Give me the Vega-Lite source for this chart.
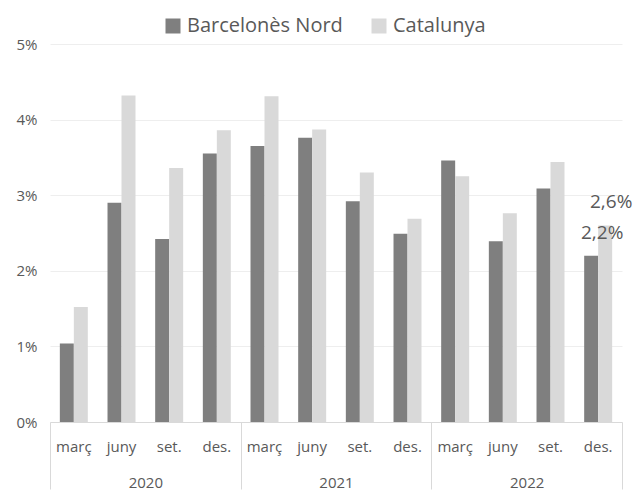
{
  "$schema": "https://vega.github.io/schema/vega-lite/v6.json",
  "autosize": {"type": "none"},
  "width": 572,
  "height": 378,
  "padding": {"left": 50, "top": 44, "right": 15, "bottom": 69},
  "config": {
    "font": "Open Sans",
    "view": {"stroke": null},
    "locale": {"number": {"decimal": ",", "thousands": ".", "grouping": [3], "currency": ["", " €"]}},
    "axis": {"labelColor": "#595959", "labelFont": "Open Sans", "labelFontSize": 15, "title": null}
  },
  "datasets": {
    "main": [
      {"period": "2020 març", "series": "Barcelonès Nord", "value": 0.0104},
      {"period": "2020 març", "series": "Catalunya", "value": 0.0152},
      {"period": "2020 juny", "series": "Barcelonès Nord", "value": 0.0290},
      {"period": "2020 juny", "series": "Catalunya", "value": 0.0432},
      {"period": "2020 set.", "series": "Barcelonès Nord", "value": 0.0242},
      {"period": "2020 set.", "series": "Catalunya", "value": 0.0336},
      {"period": "2020 des.", "series": "Barcelonès Nord", "value": 0.0355},
      {"period": "2020 des.", "series": "Catalunya", "value": 0.0386},
      {"period": "2021 març", "series": "Barcelonès Nord", "value": 0.0365},
      {"period": "2021 març", "series": "Catalunya", "value": 0.0431},
      {"period": "2021 juny", "series": "Barcelonès Nord", "value": 0.0376},
      {"period": "2021 juny", "series": "Catalunya", "value": 0.0387},
      {"period": "2021 set.", "series": "Barcelonès Nord", "value": 0.0292},
      {"period": "2021 set.", "series": "Catalunya", "value": 0.0330},
      {"period": "2021 des.", "series": "Barcelonès Nord", "value": 0.0249},
      {"period": "2021 des.", "series": "Catalunya", "value": 0.0269},
      {"period": "2022 març", "series": "Barcelonès Nord", "value": 0.0346},
      {"period": "2022 març", "series": "Catalunya", "value": 0.0325},
      {"period": "2022 juny", "series": "Barcelonès Nord", "value": 0.0239},
      {"period": "2022 juny", "series": "Catalunya", "value": 0.0276},
      {"period": "2022 set.", "series": "Barcelonès Nord", "value": 0.0309},
      {"period": "2022 set.", "series": "Catalunya", "value": 0.0344},
      {"period": "2022 des.", "series": "Barcelonès Nord", "value": 0.022},
      {"period": "2022 des.", "series": "Catalunya", "value": 0.026}
    ],
    "years": [
      {"pos": 0}, {"pos": 0.5}, {"pos": 1}, {"pos": 1.5}, {"pos": 2}, {"pos": 2.5}, {"pos": 3}
    ]
  },
  "layer": [
    {
      "data": {"name": "main"},
      "encoding": {
        "x": {"field": "period", "type": "nominal", "sort": null,
              "scale": {"paddingInner": 0.413, "paddingOuter": 0.2065},
              "axis": {"labelExpr": "split(datum.label, ' ')[1]", "ticks": false, "tickSize": 0, "labelPadding": 17,
                       "domainColor": "#d9d9d9", "domainWidth": 1, "labelAngle": 0, "grid": false}},
        "xOffset": {"field": "series", "type": "nominal", "sort": null,
                    "scale": {"domain": ["Barcelonès Nord", "Catalunya"], "paddingInner": 0, "paddingOuter": 0}},
        "y": {"field": "value", "type": "quantitative",
              "scale": {"domain": [0, 0.05], "nice": false},
              "axis": {"values": [0, 0.01, 0.02, 0.03, 0.04, 0.05], "format": ".0%", "domain": false, "ticks": false,
                       "labelPadding": 13, "gridColor": "#eeeeee", "gridWidth": 1}}
      },
      "layer": [
        {
          "mark": {"type": "bar"},
          "encoding": {
            "color": {"field": "series", "type": "nominal",
                      "scale": {"domain": ["Barcelonès Nord", "Catalunya"], "range": ["#7f7f7f", "#d9d9d9"]},
                      "legend": {"title": null, "orient": "none", "legendX": 113, "legendY": -28, "direction": "horizontal",
                                 "symbolType": "square", "symbolSize": 225, "symbolStrokeWidth": 0,
                                 "labelFontSize": 20, "labelColor": "#595959", "labelFont": "Open Sans",
                                 "columnPadding": 26, "labelOffset": 4}}
          }
        },
        {
          "transform": [{"filter": "datum.period == '2022 des.' && datum.series == 'Catalunya'"}],
          "mark": {"type": "text", "fontSize": 19, "color": "#595959", "baseline": "middle", "dy": -23, "dx": 6},
          "encoding": {
            "text": {"field": "value", "type": "quantitative", "format": ".1%"}
          }
        },
        {
          "transform": [{"filter": "datum.period == '2022 des.' && datum.series == 'Barcelonès Nord'"}],
          "mark": {"type": "text", "fontSize": 19, "color": "#595959", "baseline": "middle", "dy": -23, "dx": 11},
          "encoding": {
            "text": {"field": "value", "type": "quantitative", "format": ".1%"}
          }
        }
      ]
    },
    {
      "data": {"name": "years"},
      "mark": {"type": "point", "opacity": 0},
      "encoding": {
        "x": {"field": "pos", "type": "quantitative", "scale": {"domain": [0, 3], "nice": false, "zero": false},
              "axis": {"orient": "bottom", "values": [0, 0.5, 1, 1.5, 2, 2.5, 3],
                       "labelExpr": "datum.value == 0.5 ? '2020' : datum.value == 1.5 ? '2021' : datum.value == 2.5 ? '2022' : ''",
                       "domain": false, "grid": false, "tickSize": 67, "tickColor": "#d9d9d9",
                       "tickOpacity": {"condition": {"test": "datum.value % 1 != 0", "value": 0}, "value": 1},
                       "labelPadding": -14, "labelFlush": false, "labelOverlap": false}}
      }
    }
  ],
  "resolve": {"scale": {"x": "independent"}, "axis": {"x": "independent"}}
}
